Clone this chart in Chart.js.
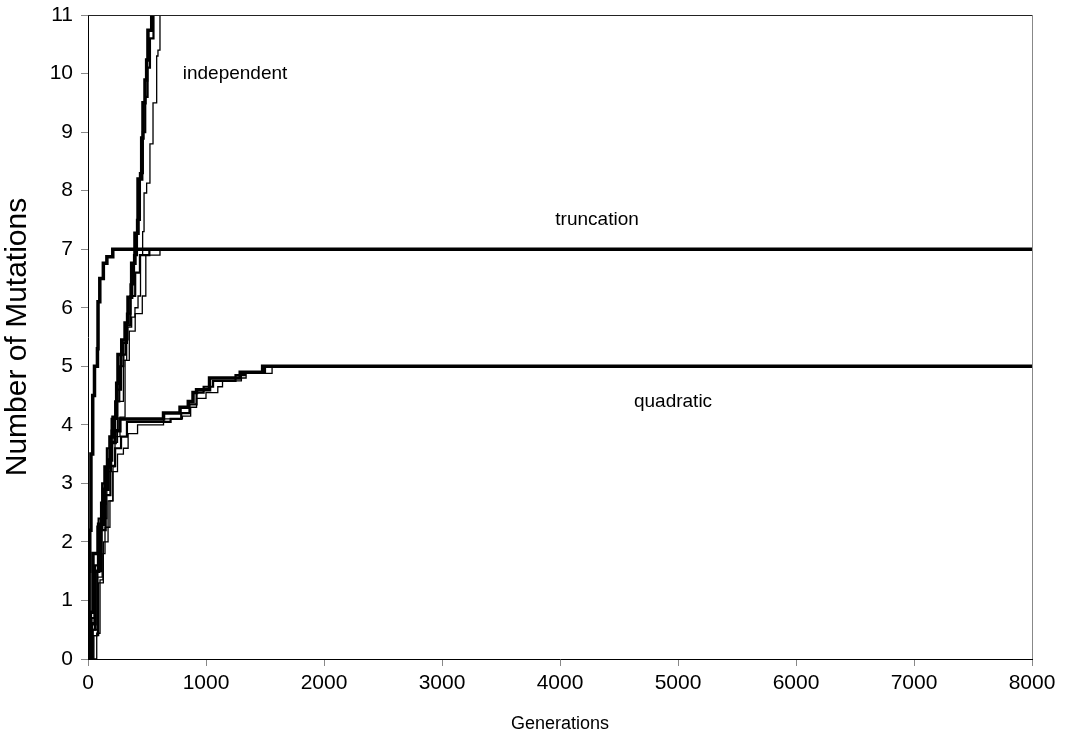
<!DOCTYPE html>
<html lang="en">
<head>
    <meta charset="UTF-8">
    <title>Number of Mutations</title>
    <script src="https://cdn.jsdelivr.net/npm/chart.js"></script>
    <style>
        body { margin: 0; padding: 0; background: #fff; }
        #wrap { width: 1070px; height: 742px; }
    </style>
</head>
<body>
    <div id="wrap"><canvas id="chart" width="1070" height="742"></canvas></div>

    <script>
        // generations / mean number of mutations
        const indThickGen = [0, 20, 42, 85, 116, 144, 186, 212, 243, 254, 286, 314, 339, 370, 398, 424, 455, 466, 483, 497, 508, 540, 570];
        const indThickMut = [0, 0.8, 1.8, 2.25, 2.66, 3.28, 3.79, 4.13, 4.71, 5.2, 5.45, 5.74, 6.18, 6.76, 7.27, 8.2, 8.9, 9.5, 9.89, 10.23, 10.74, 11.1, 11.5];
        const indMedGen = [0, 30, 60, 95, 130, 165, 200, 230, 265, 300, 330, 360, 390, 415, 440, 465, 485, 505, 525, 555, 580];
        const indMedMut = [0, 0.7, 1.6, 2.3, 2.9, 3.4, 3.9, 4.4, 5.0, 5.4, 5.9, 6.4, 6.9, 7.5, 8.3, 9.0, 9.6, 10.1, 10.6, 11.1, 11.5];
        const indThinGen = [0, 74, 102, 127, 144, 186, 212, 229, 271, 314, 328, 339, 370, 398, 424, 445, 463, 475, 497, 525, 551, 582, 593, 610, 640];
        const indThinMut = [0, 0.44, 1.35, 1.8, 2.25, 2.7, 3.28, 3.8, 4.13, 5.1, 5.45, 5.67, 5.84, 6.0, 6.2, 6.9, 7.3, 7.96, 8.13, 8.8, 9.5, 10.3, 10.4, 11.1, 11.5];

        const truThickGen = [0, 5, 10, 15, 25, 40, 55, 80, 85, 100, 130, 160, 210, 8000];
        const truThickMut = [0, 0.5, 1.5, 2.2, 3.5, 4.5, 5.0, 5.3, 6.1, 6.5, 6.76, 6.87, 7, 7];
        const truMedGen = [0, 30, 60, 90, 120, 160, 200, 240, 280, 320, 360, 400, 440, 520, 8000];
        const truMedMut = [0, 0.5, 1.5, 2.4, 3.0, 3.6, 4.1, 4.6, 5.2, 5.7, 6.2, 6.6, 6.9, 7, 7];
        const truThinGen = [0, 40, 80, 120, 160, 200, 250, 300, 350, 400, 460, 490, 610, 8000];
        const truThinMut = [0, 0.4, 1.4, 2.4, 3.2, 3.7, 4.4, 5.1, 5.6, 5.9, 6.2, 6.9, 7, 7];

        const quaThickGen = [0, 30, 60, 90, 130, 170, 200, 230, 270, 640, 780, 850, 890, 920, 1030, 1290, 1480, 8000];
        const quaThickMut = [0, 0.6, 1.5, 2.3, 2.9, 3.4, 3.7, 3.9, 4.1, 4.2, 4.3, 4.4, 4.55, 4.6, 4.8, 4.9, 5.0, 5.0];
        const quaMedGen = [0, 40, 80, 110, 150, 190, 230, 280, 330, 700, 790, 860, 920, 980, 1060, 1250, 1330, 1500, 8000];
        const quaMedMut = [0, 0.5, 1.5, 2.2, 2.8, 3.3, 3.6, 3.8, 4.05, 4.1, 4.2, 4.35, 4.55, 4.65, 4.75, 4.85, 4.9, 5.0, 5.0];
        const quaThinGen = [0, 50, 90, 130, 170, 210, 250, 300, 340, 420, 640, 800, 870, 920, 1000, 1100, 1140, 1300, 1340, 1560, 8000];
        const quaThinMut = [0, 0.4, 1.3, 2.0, 2.7, 3.2, 3.5, 3.6, 3.85, 4.0, 4.1, 4.15, 4.3, 4.45, 4.55, 4.65, 4.75, 4.8, 4.88, 5.0, 5.0];

        const xTicks = [0, 1000, 2000, 3000, 4000, 5000, 6000, 7000, 8000];
        const yTicks = [0, 1, 2, 3, 4, 5, 6, 7, 8, 9, 10, 11];

        const labelText = ['independent', 'truncation', 'quadratic'];
        const labelGen = [1246, 4314, 4958];
        const labelMut = [10.0, 7.5, 4.4];

        function pts(xs, ys) {
            return xs.map((x, i) => ({ x: x, y: ys[i] }));
        }

        function series(label, xs, ys, width) {
            return {
                label: label,
                data: pts(xs, ys),
                borderColor: '#000',
                borderWidth: width,
                pointRadius: 0,
                stepped: true,
                fill: false
            };
        }

        const family = '"Liberation Sans", Arial, sans-serif';

        const labelPlugin = {
            id: 'curveLabels',
            afterDatasetsDraw(chart) {
                const ctx = chart.ctx;
                const xs = chart.scales.x, ys = chart.scales.y;
                const a = chart.chartArea;
                ctx.save();
                // frame: top and right edges
                ctx.lineWidth = 1;
                ctx.strokeStyle = '#222';
                ctx.beginPath();
                ctx.moveTo(a.left, a.top + 0.5);
                ctx.lineTo(a.right, a.top + 0.5);
                ctx.stroke();
                ctx.strokeStyle = '#888';
                ctx.beginPath();
                ctx.moveTo(a.right + 0.5, a.top);
                ctx.lineTo(a.right + 0.5, a.bottom);
                ctx.stroke();

                ctx.fillStyle = '#000';
                ctx.font = '19px ' + family;
                ctx.textAlign = 'center';
                ctx.textBaseline = 'middle';
                labelText.forEach((t, i) => {
                    ctx.fillText(t, xs.getPixelForValue(labelGen[i]), ys.getPixelForValue(labelMut[i]));
                });
                ctx.restore();
            }
        };

        const tickFont = { family: family, size: 21 };

        new Chart(document.getElementById('chart'), {
            type: 'line',
            data: {
                datasets: [
                    series('independent 1', indThickGen, indThickMut, 3.5),
                    series('independent 2', indMedGen, indMedMut, 2.2),
                    series('independent 3', indThinGen, indThinMut, 1.3),
                    series('truncation 1', truThickGen, truThickMut, 3.5),
                    series('truncation 2', truMedGen, truMedMut, 2.2),
                    series('truncation 3', truThinGen, truThinMut, 1.3),
                    series('quadratic 1', quaThickGen, quaThickMut, 3.5),
                    series('quadratic 2', quaMedGen, quaMedMut, 2.2),
                    series('quadratic 3', quaThinGen, quaThinMut, 1.3)
                ]
            },
            options: {
                responsive: false,
                animation: false,
                layout: { padding: { top: 15, right: 38, left: 0, bottom: 0 } },
                plugins: {
                    legend: { display: false },
                    tooltip: { enabled: false }
                },
                scales: {
                    x: {
                        type: 'linear',
                        min: 0,
                        max: 8000,
                        afterFit: s => { s.height = 83; s.paddingLeft = 0; s.paddingRight = 0; },
                        afterBuildTicks: s => { s.ticks = xTicks.map(v => ({ value: v })); },
                        grid: { drawOnChartArea: false, tickLength: 7, color: '#888' },
                        border: { color: '#000', width: 1 },
                        ticks: { color: '#000', font: tickFont, padding: 5, maxRotation: 0, callback: v => String(v) },
                        title: {
                            display: true,
                            text: 'Generations',
                            color: '#000',
                            font: { family: family, size: 18 },
                            padding: { top: 0, bottom: 7 }
                        }
                    },
                    y: {
                        min: 0,
                        max: 11,
                        afterFit: s => { s.width = 88; s.paddingTop = 0; s.paddingBottom = 0; },
                        afterBuildTicks: s => { s.ticks = yTicks.map(v => ({ value: v })); },
                        grid: { drawOnChartArea: false, tickLength: 7, color: '#888' },
                        border: { color: '#000', width: 1 },
                        ticks: { color: '#000', font: tickFont, padding: 8, callback: v => String(v) },
                        title: {
                            display: true,
                            text: 'Number of Mutations',
                            color: '#000',
                            font: { family: family, size: 30 },
                            padding: { top: 0, bottom: 6 }
                        }
                    }
                }
            },
            plugins: [labelPlugin]
        });
    </script>
</body>
</html>
